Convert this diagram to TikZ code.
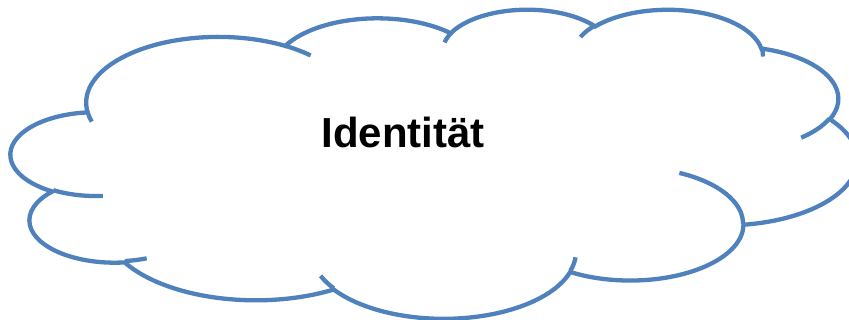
\documentclass[tikz,border=0pt]{standalone}
\usepackage{fontspec}
\setmainfont{Liberation Sans}
\definecolor{cloudblue}{RGB}{79,129,189}
\newcommand\mkarc[5]{%
  \pgfmathsetmacro\mkarcA{atan2((#2)*sin(#4),(#3)*cos(#4))}%
  \pgfmathsetmacro\mkarcB{atan2((#2)*sin((#4)+(#5)),(#3)*cos((#4)+(#5)))}%
  \pgfmathsetmacro\mkarcD{mod(\mkarcB-\mkarcA+720,360)}%
  \edef\mkarcTmp{\noexpand\tikzset{#1/.style={x radius=#2,y radius=#3,start angle=\mkarcA,delta angle=\mkarcD}}}%
  \mkarcTmp}
% outline arcs
\mkarc{oa1}{67.53}{91.90}{-190.4875}{123.7805}
\mkarc{oa2}{53.33}{72.67}{-144.1024}{89.9452}
\mkarc{oa3}{43.65}{59.45}{-145.8079}{99.7230}
\mkarc{oa4}{48.57}{65.95}{-130.9861}{117.2417}
\mkarc{oa5}{53.33}{72.73}{-78.7089}{109.0269}
\mkarc{oa6}{67.75}{92.20}{-46.2673}{130.2690}
\mkarc{oa7}{57.85}{78.67}{0.6250}{114.0333}
\mkarc{oa8}{67.52}{92.15}{22.4516}{115.1726}
\mkarc{oa9}{77.20}{105.43}{66.2426}{75.7110}
\mkarc{oa10}{43.60}{59.18}{-274.9421}{146.7356}
\mkarc{oa11}{43.45}{59.45}{-246.8285}{152.5189}
% interior arcs
\mkarc{ia1}{43.45}{59.45}{86.7420}{26.4295}
\mkarc{ia2}{43.60}{59.18}{73.6105}{11.4475}
\mkarc{ia3}{67.52}{92.15}{137.6242}{14.0811}
\mkarc{ia4}{67.52}{92.15}{6.4533}{15.9984}
\mkarc{ia5}{57.85}{78.67}{-70.2924}{70.9174}
\mkarc{ia6}{53.33}{72.73}{30.3180}{27.7515}
\mkarc{ia7}{48.57}{65.95}{-13.7443}{14.8589}
\mkarc{ia8}{48.57}{65.95}{-149.1815}{18.1954}
\mkarc{ia9}{43.65}{59.45}{-163.4943}{17.6864}
\mkarc{ia10}{67.53}{91.90}{-66.7070}{12.3194}
\mkarc{ia11}{67.53}{91.90}{157.6544}{11.8582}
\tikzset{cloudline/.style={draw=cloudblue, line width=4.3pt}}
\begin{document}
\begin{tikzpicture}[x=1pt,y=-1pt]
\useasboundingbox (0,0) rectangle (849,320);
\begin{scope}[shift={(11,8.7)}, x=1.958333pt, y=-0.715278pt]
\draw[cloudline, fill=white] (39.00,143.70) arc[oa1] arc[oa2] arc[oa3] arc[oa4] arc[oa5] arc[oa6]
  arc[oa7] arc[oa8] arc[oa9] arc[oa10] arc[oa11] -- cycle;
\draw[cloudline] (46.93,261.77) arc[ia1]
  (69.28,348.99) arc[ia2]
  (164.78,390.90) arc[ia3]
  (288.27,347.51) arc[ia4]
  (341.29,229.54) arc[ia5]
  (417.98,153.54) arc[ia6]
  (383.24,54.26) arc[ia7]
  (290.78,39.52) arc[ia8]
  (221.41,47.20) arc[ia9]
  (140.00,51.92) arc[ia10]
  (41.27,157.89) arc[ia11];
\end{scope}
\node[font=\bfseries\fontsize{42}{50}\selectfont, anchor=base] (lbl) at (403,148) {Identität};
\end{tikzpicture}
\end{document}
